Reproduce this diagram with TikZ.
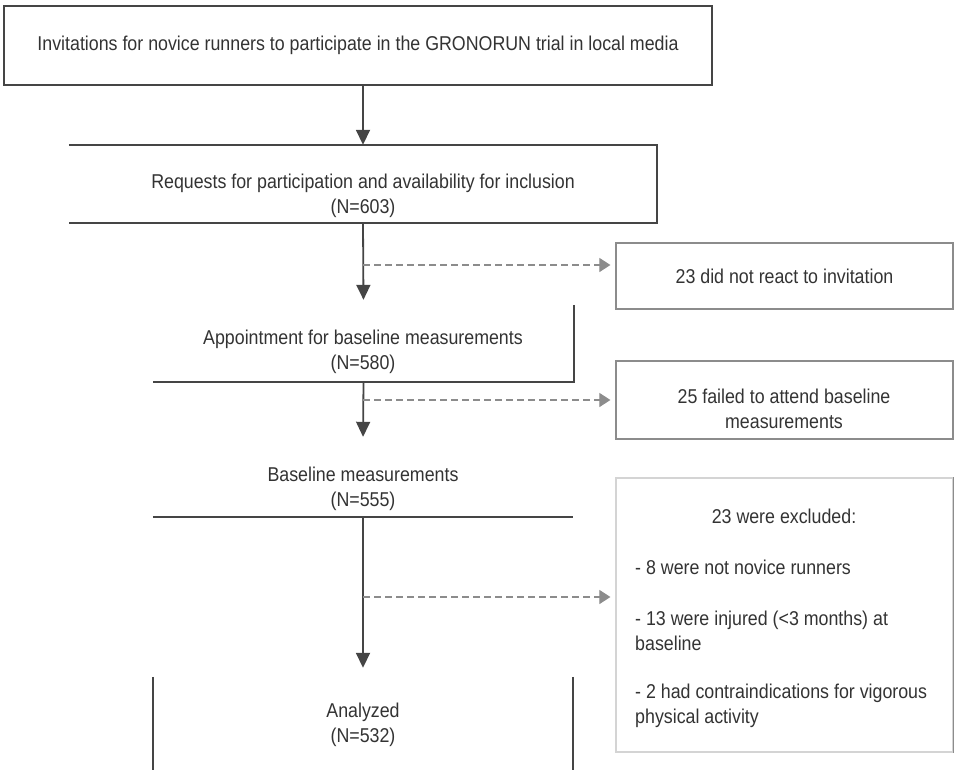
\documentclass[tikz,border=0pt]{standalone}
\usepackage{fontspec}
\setmainfont[FakeStretch=0.89]{Liberation Sans}
\usetikzlibrary{arrows.meta}
\definecolor{ink}{HTML}{333333}
\definecolor{rulegray}{HTML}{454545}
\definecolor{sidegray}{HTML}{8C8C8C}
\definecolor{faintgray}{HTML}{D4D4D4}
\begin{document}
\begin{tikzpicture}[x=1pt,y=-1pt,
  txt/.style={text=ink,font=\fontsize{20}{25}\selectfont,align=center,inner sep=0pt},
  box/.style 2 args={minimum width=#1,minimum height=#2,inner sep=0pt},
  edge/.style={draw=rulegray,line width=1.8pt},
  sideedge/.style={draw=sidegray,line width=1.2pt},
  flow/.style={draw=rulegray,line width=1.8pt,-{Triangle[length=15pt,width=14pt]}},
  drop/.style={draw=sidegray,line width=1.1pt,dash pattern=on 7pt off 4pt,
    -{Triangle[length=11pt,width=14pt]},shorten >=5pt}]
  \useasboundingbox (0,0) rectangle (958,770);
  % main column, only the edges that show in the scan
  \node[box={708pt}{79pt},edge,txt] (invite) at (358,45.5)
    {Invitations for novice runners to participate in the GRONORUN trial in local media};
  \node[box={588pt}{78pt}] (requests) at (363,184) {};
  \draw[edge] (requests.north west) -- (requests.north east)
    -- (requests.south east) -- (requests.south west);
  \node[txt] (requests-t) at (363,196)
    {Requests for participation and availability for inclusion\\(N=603)};
  \node[box={421pt}{77pt}] (appoint) at (363.5,343.5) {};
  \draw[edge] (appoint.north east) -- (appoint.south east) -- (appoint.south west);
  \node[txt] (appoint-t) at (363,352) {Appointment for baseline measurements\\(N=580)};
  \node[box={420pt}{77pt}] (baseline) at (363,478.5) {};
  \draw[edge] (baseline.south west) -- (baseline.south east);
  \node[txt] (baseline-t) at (363,489) {Baseline measurements\\(N=555)};
  \node[box={420pt}{93pt}] (analyzed) at (363,723.5) {};
  \draw[edge] (analyzed.north west) -- (analyzed.south west);
  \draw[edge] (analyzed.north east) -- (analyzed.south east);
  \node[txt] (analyzed-t) at (363,724.5) {Analyzed\\(N=532)};
  % side boxes
  \node[box={337pt}{66pt},sideedge,txt] (noreact) at (784.5,276)
    {23 did not react to invitation};
  \node[box={337pt}{78pt},sideedge] (noshow) at (784.5,400) {};
  \node[txt] (noshow-t) at (784,409) {25 failed to attend baseline\\measurements};
  \node[box={337pt}{274pt},draw=faintgray,line width=1.2pt] (excluded) at (784.5,615) {};
  \draw[sideedge] (excluded.north east) -- (excluded.south east);
  \node[txt] (excl-title) at (784,516) {23 were excluded:};
  \node[txt,anchor=west,align=left] (excl-a) at (635,567) {- 8 were not novice runners};
  \node[txt,anchor=west,align=left] (excl-b) at (635,630.5)
    {- 13 were injured (<3 months) at\\baseline};
  \node[txt,anchor=west,align=left] (excl-c) at (635,705.5)
    {- 2 had contraindications for vigorous\\physical activity};
  % connectors
  \coordinate (s1) at (363,265);
  \coordinate (s2) at (363,400);
  \coordinate (s3) at (363,597);
  \draw[flow] (requests.north |- invite.south) -- (requests.north);
  \draw[flow,shorten >=5pt] (requests.south) -- (appoint.north);
  \draw[flow,shorten >=3pt] (appoint.south) -- (baseline.north);
  \draw[flow,shorten >=9pt] (baseline.south) -- (analyzed.north);
  \draw[drop] (s1) -- (s1 -| noreact.west);
  \draw[drop] (s2) -- (s2 -| noshow.west);
  \draw[drop] (s3) -- (s3 -| excluded.west);
\end{tikzpicture}
\end{document}
